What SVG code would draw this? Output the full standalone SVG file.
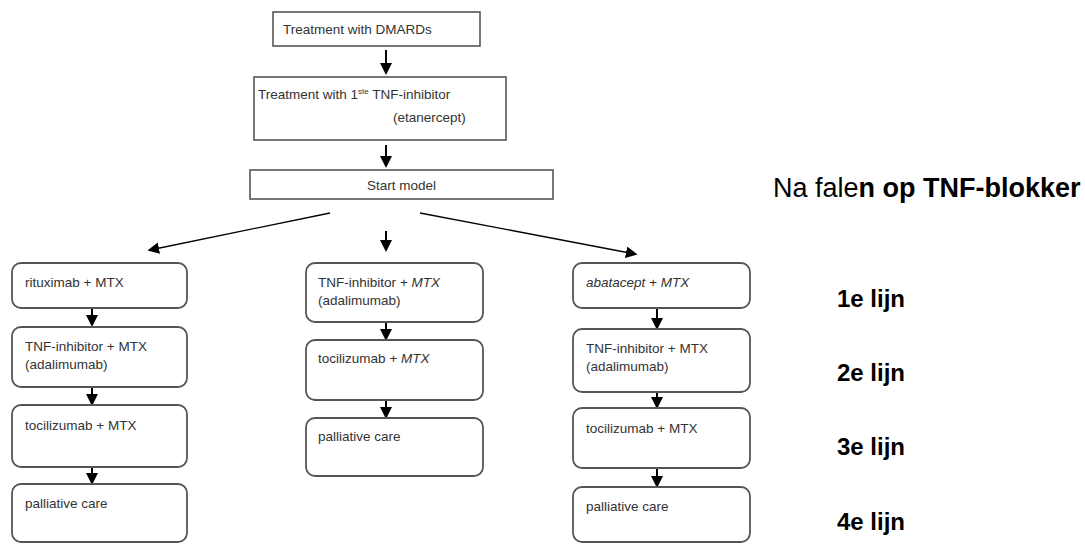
<svg xmlns="http://www.w3.org/2000/svg" width="1085" height="545" viewBox="0 0 1085 545">
<style>
.box{fill:#fff;stroke:#555;stroke-width:1.6}
.rbox{fill:#fff;stroke:#555;stroke-width:1.8}
.t{font-family:"Liberation Sans",Arial,sans-serif;font-size:13.5px;fill:#333}
.i{font-style:italic}
.big{font-family:"Liberation Sans",Arial,sans-serif;font-size:27px;fill:#000}
.lbl{font-family:"Liberation Sans",Arial,sans-serif;font-size:24px;font-weight:bold;fill:#000}
.c{stroke:#000;stroke-width:2;fill:none;marker-end:url(#ah)}
.d{stroke:#000;stroke-width:1.3;fill:none;marker-end:url(#ah2)}
</style>
<defs>
<marker id="ah" markerWidth="6" markerHeight="6" refX="5" refY="3" orient="auto" markerUnits="strokeWidth">
<path d="M0,0 L6,3 L0,6 Z" fill="#000"/>
</marker>
<marker id="ah2" markerWidth="9" markerHeight="9" refX="7" refY="4.5" orient="auto" markerUnits="strokeWidth">
<path d="M0,0 L9,4.5 L0,9 Z" fill="#000"/>
</marker>
</defs>
<rect width="1085" height="545" fill="#fff"/>

<g id="connectors">
<line class="c" x1="386" y1="50" x2="386" y2="73"/>
<line class="c" x1="386" y1="145" x2="386" y2="166"/>
<line class="d" x1="330" y1="213" x2="150" y2="250"/>
<line class="c" x1="386" y1="231" x2="386" y2="250"/>
<line class="d" x1="420" y1="213" x2="635" y2="254"/>
<line class="c" x1="92" y1="308" x2="92" y2="325"/>
<line class="c" x1="92" y1="388" x2="92" y2="404"/>
<line class="c" x1="92" y1="468" x2="92" y2="483"/>
<line class="c" x1="386" y1="322" x2="386" y2="339"/>
<line class="c" x1="386" y1="400" x2="386" y2="417"/>
<line class="c" x1="657" y1="309" x2="657" y2="328"/>
<line class="c" x1="657" y1="392" x2="657" y2="407"/>
<line class="c" x1="657" y1="458" x2="657" y2="486"/>
</g>

<g id="n-dmards">
<rect class="box" x="273" y="12" width="207" height="34"/>
<text class="t" x="283" y="34" font-size="14">Treatment with DMARDs</text>
</g>
<g id="n-tnf1">
<rect class="box" x="254" y="77" width="252" height="63"/>
<text class="t" x="258" y="99" font-size="14">Treatment  with 1<tspan font-size="8" dy="-5">ste</tspan><tspan dy="5"> TNF-inhibitor</tspan></text>
<text class="t" x="393" y="122">(etanercept)</text>
</g>
<g id="n-start">
<rect class="box" x="250" y="170" width="303" height="29"/>
<text class="t" x="367" y="190" font-size="12.5">Start model</text>
</g>

<g id="n-l1"><rect class="rbox" x="12" y="263" width="175" height="45" rx="9"/><text class="t" x="25" y="287">rituximab  + MTX</text></g>
<g id="n-l2"><rect class="rbox" x="12" y="327" width="175" height="60" rx="9"/><text class="t" x="25" y="351">TNF-inhibitor  + MTX</text><text class="t" x="25" y="369">(adalimumab)</text></g>
<g id="n-l3"><rect class="rbox" x="12" y="405" width="175" height="62" rx="9"/><text class="t" x="25" y="430">tocilizumab + MTX</text></g>
<g id="n-l4"><rect class="rbox" x="12" y="484" width="175" height="58" rx="9"/><text class="t" x="25" y="508">palliative  care</text></g>

<g id="n-m1"><rect class="rbox" x="306" y="263" width="177" height="59" rx="9"/><text class="t" x="318" y="287">TNF-inhibitor  <tspan class="i">+ MTX</tspan></text><text class="t" x="318" y="305">(adalimumab)</text></g>
<g id="n-m2"><rect class="rbox" x="306" y="340" width="177" height="60" rx="9"/><text class="t" x="318" y="363">tocilizumab <tspan class="i">+ MTX</tspan></text></g>
<g id="n-m3"><rect class="rbox" x="306" y="418" width="177" height="58" rx="9"/><text class="t" x="318" y="441">palliative care</text></g>

<g id="n-r1"><rect class="rbox" x="573" y="263" width="177" height="45" rx="9"/><text class="t i" x="586" y="287">abatacept + MTX</text></g>
<g id="n-r2"><rect class="rbox" x="573" y="329" width="177" height="63" rx="9"/><text class="t" x="586" y="353">TNF-inhibitor  + MTX</text><text class="t" x="586" y="371">(adalimumab)</text></g>
<g id="n-r3"><rect class="rbox" x="573" y="408" width="177" height="60" rx="9"/><text class="t" x="586" y="433">tocilizumab + MTX</text></g>
<g id="n-r4"><rect class="rbox" x="573" y="487" width="177" height="55" rx="9"/><text class="t" x="586" y="511">palliative  care</text></g>

<g id="labels">
<text class="big" x="773" y="197">Na fale<tspan font-weight="bold">n op TNF-blokker</tspan></text>
<text class="lbl" x="837" y="307">1e lijn</text>
<text class="lbl" x="837" y="381">2e lijn</text>
<text class="lbl" x="837" y="455">3e lijn</text>
<text class="lbl" x="837" y="530">4e lijn</text>
</g>
</svg>
